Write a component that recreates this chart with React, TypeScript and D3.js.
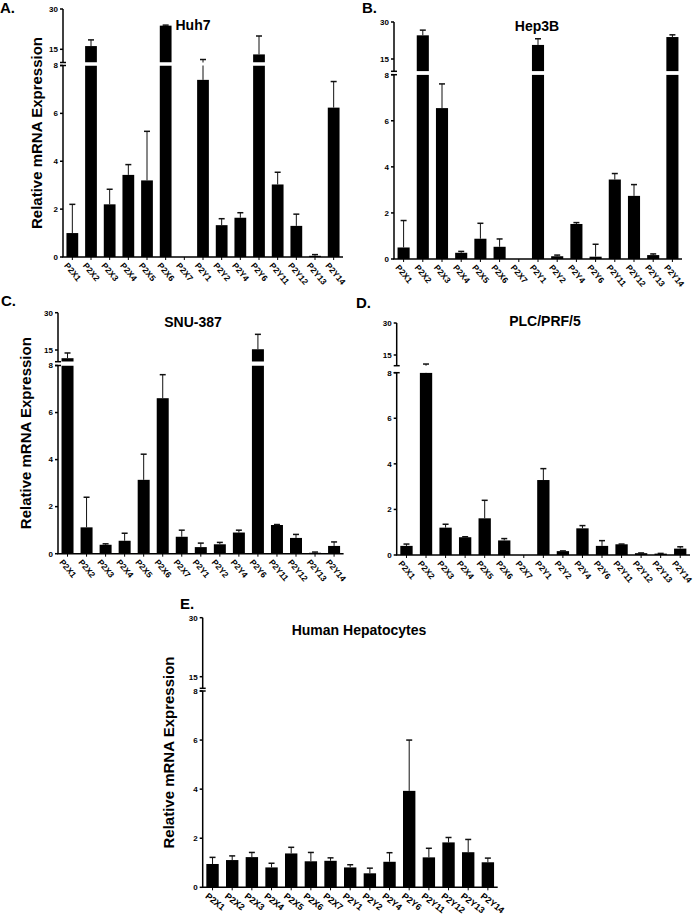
import React from "react";
import * as d3 from "d3";

const categories = ["P2X1","P2X2","P2X3","P2X4","P2X5","P2X6","P2X7","P2Y1","P2Y2","P2Y4","P2Y6","P2Y11","P2Y12","P2Y13","P2Y14"];

const huh7Mean = [1.0, 16.2, 2.2, 3.43, 3.2, 23.8, 0, 7.4, 1.33, 1.64, 13.1, 3.03, 1.3, 0.05, 6.24];
const huh7Err = [1.2, 2.3, 0.63, 0.43, 2.05, 0.2, 0, 0.85, 0.27, 0.21, 6.85, 0.51, 0.49, 0.05, 1.09];

const hep3bMean = [0.5, 24.6, 6.55, 0.27, 0.88, 0.53, 0, 20.7, 0.12, 1.52, 0.1, 3.45, 2.74, 0.17, 23.9];
const hep3bErr = [1.17, 2.1, 1.05, 0.06, 0.67, 0.34, 0, 2.5, 0.05, 0.06, 0.54, 0.26, 0.49, 0.05, 0.9];

const snuMean = [11.7, 1.12, 0.38, 0.55, 3.14, 6.61, 0.72, 0.28, 0.4, 0.9, 15.3, 1.22, 0.67, 0.04, 0.33];
const snuErr = [2.1, 1.28, 0.04, 0.32, 1.09, 1.0, 0.28, 0.17, 0.08, 0.1, 6.0, 0.02, 0.15, 0.03, 0.17];

const plcMean = [0.4, 8.0, 1.2, 0.78, 1.61, 0.64, 0, 3.29, 0.17, 1.17, 0.4, 0.47, 0.08, 0.06, 0.28];
const plcErr = [0.08, 0.38, 0.15, 0.02, 0.79, 0.08, 0, 0.5, 0.01, 0.12, 0.23, 0.01, 0.01, 0.01, 0.08];

const hepatoMean = [0.95, 1.11, 1.23, 0.81, 1.38, 1.06, 1.08, 0.81, 0.57, 1.04, 3.93, 1.22, 1.83, 1.43, 1.02];
const hepatoErr = [0.27, 0.17, 0.19, 0.17, 0.25, 0.36, 0.12, 0.11, 0.21, 0.37, 2.07, 0.37, 0.2, 0.52, 0.17];

const lowerTicks = [0, 2, 4, 6, 8];
const upperTicks = [15, 30];

const FONT = "'Liberation Sans', Arial, sans-serif";
const NARROW = "'Liberation Sans Narrow', 'Arial Narrow', 'Liberation Sans', Arial, sans-serif";

type PanelProps = {
  letter: string; title: string; mean: number[]; err: number[];
  axisX: number; xEnd: number; y0: number; y8: number; y15: number; y30: number; upperBottom: number;
  letterX: number; letterY: number; titleX: number; titleY: number;
  yLabel?: boolean; yLabelX?: number; labelSize?: number; labelAngle?: number;
};

function Panel(p: PanelProps) {
  const x = d3.scaleBand<string>().domain(categories).range([p.axisX, p.xEnd]).paddingInner(0.37).paddingOuter(0.185);
  const lower = d3.scaleLinear().domain([0, 8]).range([p.y0, p.y8]);
  const upper = d3.scaleLinear().domain([15, 30]).range([p.y15, p.y30]);
  const upperMin = upper.invert(p.upperBottom);
  const bw = x.bandwidth();
  const ls = p.labelSize ?? 8.5;
  const ang = p.labelAngle ?? 50;
  return (
    <g>
      <text x={p.letterX} y={p.letterY} fontFamily={FONT} fontWeight="bold" fontSize={15}>{p.letter}</text>
      <text x={p.titleX} y={p.titleY} fontFamily={FONT} fontWeight="bold" fontSize={14} textAnchor="middle">{p.title}</text>
      {p.yLabel && (
        <text transform={`translate(${p.yLabelX},${(p.y30 + p.y0) / 2}) rotate(-90)`} textAnchor="middle"
          fontFamily={FONT} fontWeight="bold" fontSize={15}>Relative mRNA Expression</text>
      )}
      {categories.map((c, i) => {
        const v = p.mean[i];
        const e = p.err[i];
        const bx = x(c)!;
        const cx = bx + bw / 2;
        const inUpper = v > 8;
        const sc = inUpper ? upper : lower;
        const topY = sc(v);
        const errY = sc(v + e);
        return (
          <g key={c}>
            {v > 0 && <rect x={bx} width={bw} y={lower(Math.min(v, 8))} height={p.y0 - lower(Math.min(v, 8))} fill="#000" />}
            {v > upperMin && <rect x={bx} width={bw} y={upper(v)} height={p.upperBottom - upper(v)} fill="#000" />}
            {e > 0 && (
              <g stroke="#111" strokeWidth={1}>
                <line x1={cx} x2={cx} y1={topY} y2={errY} />
                <line x1={cx - 3} x2={cx + 3} y1={errY} y2={errY} strokeWidth={1.5} />
              </g>
            )}
          </g>
        );
      })}
      <rect x={p.axisX + 1} width={p.xEnd - p.axisX} y={p.upperBottom} height={p.y8 - p.upperBottom} fill="#fff" />
      <g stroke="#000" strokeWidth={1.5}>
        <line x1={p.axisX} x2={p.axisX} y1={p.y30} y2={p.upperBottom} />
        <line x1={p.axisX} x2={p.axisX} y1={p.y8} y2={p.y0} />
        <line x1={p.axisX - 3} x2={p.axisX + 3} y1={p.upperBottom} y2={p.upperBottom} />
        <line x1={p.axisX - 3} x2={p.axisX + 3} y1={p.y8} y2={p.y8} />
        {lowerTicks.map(t => <line key={"l" + t} x1={p.axisX - 3} x2={p.axisX} y1={lower(t)} y2={lower(t)} />)}
        {upperTicks.map(t => <line key={"u" + t} x1={p.axisX - 3} x2={p.axisX} y1={upper(t)} y2={upper(t)} />)}
        <line x1={p.axisX - 0.75} x2={p.xEnd} y1={p.y0} y2={p.y0} />
        {categories.map(c => <line key={"xt" + c} x1={x(c)! + bw / 2} x2={x(c)! + bw / 2} y1={p.y0} y2={p.y0 + 3} strokeWidth={1} />)}
      </g>
      {lowerTicks.map(t => (
        <text key={"lt" + t} x={p.axisX - 5} y={lower(t)} dy="0.35em" textAnchor="end" fontFamily={NARROW} fontWeight="bold" fontSize={8}>{t}</text>
      ))}
      {upperTicks.map(t => (
        <text key={"ut" + t} x={p.axisX - 5} y={upper(t)} dy="0.35em" textAnchor="end" fontFamily={NARROW} fontWeight="bold" fontSize={8}>{t}</text>
      ))}
      {categories.map(c => (
        <text key={"xl" + c} transform={`translate(${x(c)! + bw / 2 - 4},${p.y0 + 5}) rotate(${ang})`} dy="0.7em"
          fontFamily={FONT} fontWeight="bold" fontSize={ls}>{c}</text>
      ))}
    </g>
  );
}

export default function App() {
  return (
    <svg width={697} height={916} style={{ position: "absolute", left: 0, top: 0, background: "#fff" }}>
      <rect width={697} height={916} fill="#fff" />
      <Panel letter="A." title="Huh7" mean={huh7Mean} err={huh7Err}
        axisX={63} xEnd={343} y0={257} y8={65.5} y15={49.3} y30={9} upperBottom={62.5}
        letterX={0} letterY={13} titleX={193} titleY={30} yLabel yLabelX={42} />
      <Panel letter="B." title="Hep3B" mean={hep3bMean} err={hep3bErr}
        axisX={394} xEnd={682} y0={259} y8={74.7} y15={59} y30={22} upperBottom={71.3}
        letterX={362} letterY={13} titleX={537} titleY={31} />
      <Panel letter="C." title="SNU-387" mean={snuMean} err={snuErr}
        axisX={58} xEnd={343.6} y0={553.7} y8={365.5} y15={350} y30={312.7} upperBottom={361.7}
        letterX={1} letterY={306} titleX={193} titleY={327} yLabel yLabelX={31} />
      <Panel letter="D." title="PLC/PRF/5" mean={plcMean} err={plcErr}
        axisX={396.7} xEnd={690} y0={555} y8={372.7} y15={355} y30={323} upperBottom={365.7}
        letterX={356} letterY={308} titleX={545} titleY={326} />
      <Panel letter="E." title="Human Hepatocytes" mean={hepatoMean} err={hepatoErr}
        axisX={202.7} xEnd={497.7} y0={887.3} y8={691} y15={676.7} y30={617.7} upperBottom={688.3}
        letterX={180} letterY={609} titleX={359} titleY={635} yLabel yLabelX={174} labelSize={9} labelAngle={38} />
    </svg>
  );
}
